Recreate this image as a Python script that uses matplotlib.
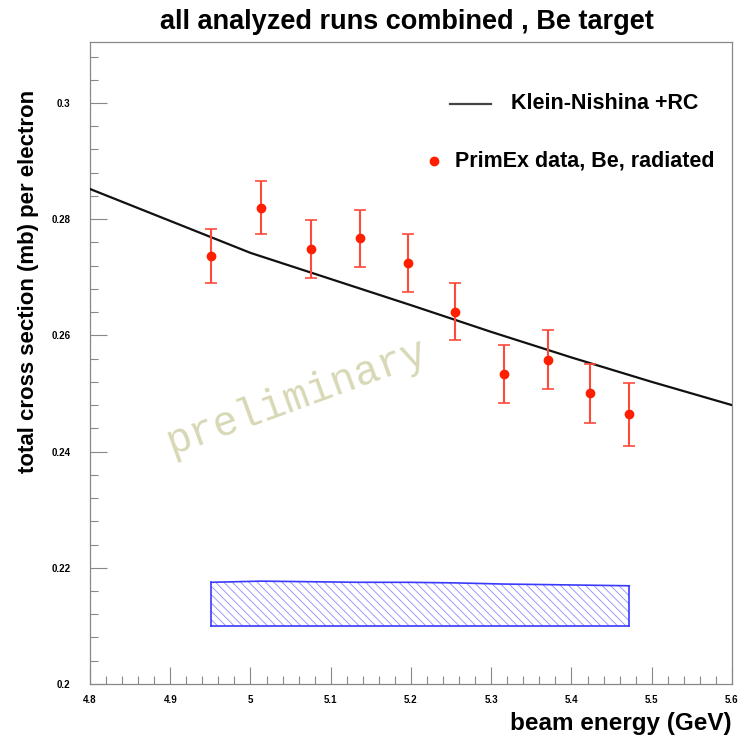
import matplotlib
matplotlib.use("Agg")
import matplotlib.pyplot as plt
import numpy as np

# Measured cross sections (PrimEx, Be target)
energy = [4.951, 5.013, 5.075, 5.136, 5.196, 5.255, 5.316, 5.371, 5.423, 5.472]
sigma = [0.2737, 0.2820, 0.2749, 0.2767, 0.2724, 0.2641, 0.2534, 0.2558, 0.2500, 0.2464]
stat_err = [0.0046, 0.0046, 0.0050, 0.0049, 0.0050, 0.0049, 0.0050, 0.0051, 0.0050, 0.0054]
syst_err = [0.0075, 0.0077, 0.0076, 0.0075, 0.0075, 0.0074, 0.0072, 0.0071, 0.0070, 0.0069]
band_base = 0.21

# Klein-Nishina + radiative corrections
kn_energy = [4.8, 4.9, 5.0, 5.1, 5.2, 5.3, 5.4, 5.5, 5.6]
kn_sigma = [0.2852, 0.2797, 0.2742, 0.2697, 0.2652, 0.2606, 0.2562, 0.2520, 0.2480]

x_ticks = [4.8, 4.9, 5.0, 5.1, 5.2, 5.3, 5.4, 5.5, 5.6]
x_labels = ["4.8", "4.9", "5", "5.1", "5.2", "5.3", "5.4", "5.5", "5.6"]
y_ticks = [0.20, 0.22, 0.24, 0.26, 0.28, 0.30]
y_labels = ["0.2", "0.22", "0.24", "0.26", "0.28", "0.3"]

plt.rcParams["font.family"] = ["Liberation Sans", "DejaVu Sans"]
plt.rcParams["hatch.linewidth"] = 0.6

fig = plt.figure(figsize=(7.42, 7.42), dpi=100)
ax = fig.add_axes([0.1213, 0.0782, 0.8652, 0.8652])

ax.set_xlim(4.8, 5.6)
ax.set_ylim(0.2, 0.3105)

# Systematic error band
band_top = np.array(syst_err) + band_base
ax.fill_between(energy, band_base, band_top, facecolor="white",
                edgecolor="#8c8cff", hatch="\\\\\\\\", linewidth=0, zorder=2)
ax.plot(energy, band_top, color="#3a3aff", lw=1.2, zorder=3)
ax.plot([energy[0], energy[-1]], [band_base, band_base], color="#3a3aff", lw=1.2, zorder=3)
ax.plot([energy[0], energy[0]], [band_base, band_top[0]], color="#3a3aff", lw=1.2, zorder=3)
ax.plot([energy[-1], energy[-1]], [band_base, band_top[-1]], color="#3a3aff", lw=1.2, zorder=3)

# Theory curve
ax.plot(kn_energy, kn_sigma, color="#111111", lw=1.6, zorder=4)

# Data points
ax.errorbar(energy, sigma, yerr=stat_err, fmt="o", color="#ff1f00",
            ecolor="#ff4a3a", elinewidth=1.5, capsize=4, capthick=1.2,
            markersize=6, zorder=5)

# Watermark
ax.text(5.058, 0.2494, "preliminary", family=["Liberation Mono", "DejaVu Sans Mono"],
        fontsize=30, color="#d8d8b6", rotation=20, ha="center", va="center",
        zorder=1)

# Legend entries
ax.plot([0.561, 0.624], [0.904, 0.904], transform=ax.transAxes,
        color="#444444", lw=1.6)
ax.text(0.656, 0.904, "Klein-Nishina +RC", transform=ax.transAxes,
        fontsize=15.5, fontweight="bold", va="center", ha="left")
ax.plot([0.536], [0.814], transform=ax.transAxes, marker="o", color="#ff1f00",
        markersize=6)
ax.text(0.569, 0.814, "PrimEx data, Be, radiated", transform=ax.transAxes,
        fontsize=15.5, fontweight="bold", va="center", ha="left")

# Axes styling
ax.set_xticks(x_ticks)
ax.set_xticklabels(x_labels)
ax.set_yticks(y_ticks)
ax.set_yticklabels(y_labels)
ax.set_xticks(np.arange(4.8, 5.6001, 0.02), minor=True)
ax.set_yticks(np.arange(0.2, 0.3101, 0.004), minor=True)
ax.tick_params(axis="both", which="major", direction="in", length=12,
               width=0.8, color="#888888", labelsize=7, top=False, right=False)
ax.tick_params(axis="both", which="minor", direction="in", length=6,
               width=0.8, color="#888888", top=False, right=False)
ax.tick_params(axis="x", pad=8)
ax.tick_params(axis="y", pad=14)
for lbl in ax.get_xticklabels() + ax.get_yticklabels():
    lbl.set_fontweight("bold")
for sp in ax.spines.values():
    sp.set_color("#888888")
    sp.set_linewidth(0.9)

fig.text(0.5485, 0.970, "all analyzed runs combined , Be target",
         fontsize=19.5, fontweight="bold", ha="center", va="center")
fig.text(0.9865, 0.025, "beam energy (GeV)", fontsize=17.5,
         fontweight="bold", ha="right", va="center")
fig.text(0.038, 0.621, "total cross section (mb) per electron", fontsize=16,
         fontweight="bold", ha="center", va="center", rotation=90)

fig.savefig("out.png", dpi=100)
